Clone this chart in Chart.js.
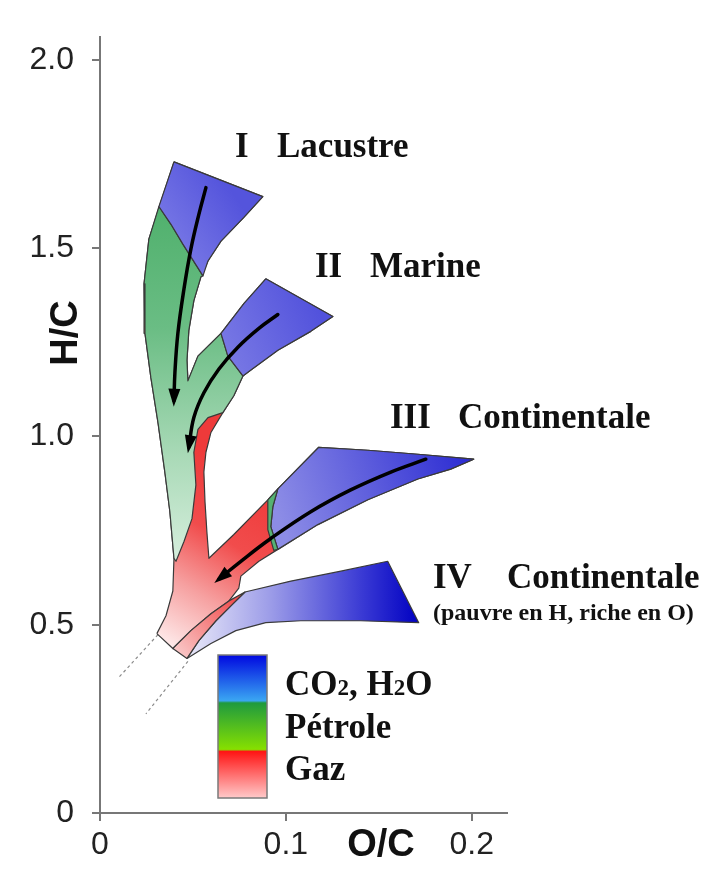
<!DOCTYPE html>
<html>
<head>
<meta charset="utf-8">
<title>Diagramme de Van Krevelen</title>
<script src="https://cdn.jsdelivr.net/npm/chart.js"></script>
<style>
  html, body { margin: 0; padding: 0; background: #fff; }
  #wrap { position: relative; width: 723px; height: 876px; }
</style>
</head>
<body>
<div id="wrap"><canvas id="vk" width="723" height="876"></canvas></div>
<script>
// Axis ticks
const xTicks = [0, 0.1, 0.2];
const yTicks = [0, 0.5, 1.0, 1.5, 2.0];

// Outlines, as [O/C, H/C]
// whole body of branches I-III and the common stem (gas zone underneath)
const gasBase = [
  [0.0306, 0.4763], [0.0355, 0.5237], [0.0392, 0.5895], [0.0398, 0.6763], [0.0376, 0.8000],
  [0.0349, 0.9053], [0.0312, 1.0368], [0.0274, 1.1553], [0.0242, 1.2737], [0.0237, 1.4053],
  [0.0263, 1.5237], [0.0323, 1.6158], [0.0398, 1.7289], [0.0876, 1.6368], [0.0774, 1.5816],
  [0.0651, 1.5184], [0.0581, 1.4658], [0.0543, 1.4237], [0.0505, 1.3605], [0.0478, 1.2816],
  [0.0468, 1.2026], [0.0473, 1.1474], [0.0527, 1.2132], [0.0651, 1.2737], [0.0774, 1.3526],
  [0.0892, 1.4184], [0.1253, 1.3184], [0.1134, 1.2789], [0.0957, 1.2289], [0.0812, 1.1763],
  [0.0769, 1.1605], [0.0720, 1.1079], [0.0661, 1.0632], [0.0597, 1.0105], [0.0570, 0.9579],
  [0.0559, 0.9053], [0.0565, 0.8263], [0.0575, 0.7474], [0.0586, 0.6763], [0.0720, 0.7395],
  [0.0903, 0.8316], [0.0957, 0.8605], [0.1177, 0.9711], [0.1441, 0.9632], [0.1710, 0.9526],
  [0.2011, 0.9395], [0.1887, 0.9132], [0.1710, 0.8868], [0.1441, 0.8316], [0.1172, 0.7658],
  [0.0957, 0.7000], [0.0855, 0.6684], [0.0758, 0.6289], [0.0747, 0.5974], [0.0694, 0.5632],
  [0.0597, 0.5289], [0.0489, 0.4842], [0.0392, 0.4368]
];
// oil zone of branches I and II and the upper stem
const oilZone = [
  [0.0317, 1.6105], [0.0263, 1.5237], [0.0237, 1.4053], [0.0242, 1.2737], [0.0274, 1.1553],
  [0.0312, 1.0368], [0.0349, 0.9053], [0.0376, 0.8000], [0.0398, 0.6763], [0.0409, 0.6684],
  [0.0452, 0.7211], [0.0495, 0.7816], [0.0516, 0.8711], [0.0505, 0.9579], [0.0527, 1.0184],
  [0.0581, 1.0500], [0.0661, 1.0632], [0.0720, 1.1079], [0.0769, 1.1605], [0.0688, 1.2132],
  [0.0651, 1.2737], [0.0527, 1.2132], [0.0473, 1.1474], [0.0468, 1.2026], [0.0478, 1.2816],
  [0.0505, 1.3605], [0.0543, 1.4237], [0.0554, 1.4263], [0.0446, 1.5105], [0.0382, 1.5632]
];
const co2TypeI = [
  [0.0398, 1.7289], [0.0876, 1.6368], [0.0774, 1.5816], [0.0651, 1.5184], [0.0581, 1.4658],
  [0.0554, 1.4263], [0.0446, 1.5105], [0.0382, 1.5632], [0.0317, 1.6105]
];
const co2TypeII = [
  [0.0892, 1.4184], [0.1253, 1.3184], [0.1134, 1.2789], [0.0957, 1.2289], [0.0812, 1.1763],
  [0.0769, 1.1605], [0.0688, 1.2132], [0.0651, 1.2737], [0.0774, 1.3526]
];
const oilTypeIII = [
  [0.0903, 0.8316], [0.0957, 0.8605], [0.0930, 0.8132], [0.0919, 0.7605], [0.0957, 0.7000],
  [0.0935, 0.6974], [0.0903, 0.7526]
];
const co2TypeIII = [
  [0.0957, 0.8605], [0.1177, 0.9711], [0.1441, 0.9632], [0.1710, 0.9526], [0.2011, 0.9395],
  [0.1887, 0.9132], [0.1710, 0.8868], [0.1441, 0.8316], [0.1172, 0.7658], [0.0957, 0.7000],
  [0.0919, 0.7605], [0.0930, 0.8132]
];
const gasTypeIV = [
  [0.0392, 0.4368], [0.0489, 0.4842], [0.0597, 0.5289], [0.0694, 0.5632], [0.0780, 0.5868],
  [0.0715, 0.5553], [0.0624, 0.5105], [0.0532, 0.4579], [0.0468, 0.4105]
];
const co2TypeIV = [
  [0.0780, 0.5868], [0.1027, 0.6158], [0.1296, 0.6421], [0.1548, 0.6684], [0.1715, 0.5053],
  [0.1403, 0.5105], [0.1081, 0.5105], [0.0892, 0.5053], [0.0731, 0.4842], [0.0597, 0.4500],
  [0.0468, 0.4105], [0.0532, 0.4579], [0.0624, 0.5105], [0.0715, 0.5553]
];

// Evolution paths (arrows)
const pathI = [[0.0570, 1.6605], [0.0532, 1.5895], [0.0489, 1.4974], [0.0452, 1.3921], [0.0419, 1.2737], [0.0403, 1.1684], [0.0398, 1.0947]];
const pathII = [[0.0957, 1.3237], [0.0855, 1.2868], [0.0742, 1.2368], [0.0640, 1.1789], [0.0559, 1.1158], [0.0505, 1.0500], [0.0478, 0.9711]];
const pathIII = [[0.1753, 0.9395], [0.1565, 0.9053], [0.1349, 0.8579], [0.1134, 0.8000], [0.0919, 0.7289], [0.0758, 0.6684], [0.0640, 0.6211]];

// Dotted extensions below the stem
const tailA = [[0.0312, 0.4737], [0.0102, 0.3605]];
const tailB = [[0.0473, 0.4026], [0.0247, 0.2632]];

// Texts
const typeLabels = [['I', 'Lacustre'], ['II', 'Marine'], ['III', 'Continentale'], ['IV', 'Continentale']];
const typeNote = '(pauvre en H, riche en O)';
const legendLabels = ['CO2, H2O', 'Pétrole', 'Gaz'];

const SANS = '"Liberation Sans", Arial, sans-serif';
const SERIF = '"Liberation Serif", "Times New Roman", serif';

function toXY(pts) {
  return pts.map(([x, y]) => ({ x, y }));
}

function closed(pts) {
  return toXY(pts.concat([pts[0]]));
}

// gradient spanning two points given in data units
function gradient(x0, y0, x1, y1, stops) {
  return (context) => {
    const chart = context.chart;
    if (!chart.chartArea) return stops[0][1];
    const sx = chart.scales.x, sy = chart.scales.y;
    const g = chart.ctx.createLinearGradient(
      sx.getPixelForValue(x0), sy.getPixelForValue(y0),
      sx.getPixelForValue(x1), sy.getPixelForValue(y1));
    stops.forEach(([o, c]) => g.addColorStop(o, c));
    return g;
  };
}

function zone(label, pts, color, order) {
  return {
    label, data: closed(pts), showLine: true, fill: 'shape',
    backgroundColor: color, borderColor: '#3a3a3a', borderWidth: 1.2,
    borderJoinStyle: 'round', pointRadius: 0, tension: 0, order
  };
}

function path(label, pts, order) {
  return {
    label, data: toXY(pts), showLine: true, fill: false, arrow: true,
    borderColor: '#000', borderWidth: 3.5, borderCapStyle: 'round',
    pointRadius: 0, tension: 0.4, order
  };
}

function tail(label, pts) {
  return {
    label, data: toXY(pts), showLine: true, fill: false,
    borderColor: '#8c8c8c', borderWidth: 1.2, borderDash: [3, 3],
    pointRadius: 0, order: 9
  };
}

const arrowHeads = {
  id: 'arrowHeads',
  afterDatasetsDraw(chart) {
    const c = chart.ctx;
    chart.data.datasets.forEach((ds, i) => {
      if (!ds.arrow) return;
      const pts = chart.getDatasetMeta(i).data;
      const tip = pts[pts.length - 1], prev = pts[pts.length - 2];
      const a = Math.atan2(tip.y - prev.y, tip.x - prev.x);
      c.save();
      c.translate(tip.x, tip.y);
      c.rotate(a);
      c.beginPath();
      c.moveTo(6, 0);
      c.lineTo(-12, -6);
      c.lineTo(-12, 6);
      c.closePath();
      c.fillStyle = '#000';
      c.fill();
      c.restore();
    });
  }
};

function drawChem(c, text, x, y, size) {
  // digits after a letter are drawn smaller (CO2, H2O)
  let cx = x;
  for (let i = 0; i < text.length; i++) {
    const ch = text[i];
    const sub = /[0-9]/.test(ch) && i > 0 && /[A-Z]/.test(text[i - 1]);
    c.font = 'bold ' + (sub ? Math.round(size * 0.66) : size) + 'px ' + SERIF;
    c.fillText(ch, cx, y);
    cx += c.measureText(ch).width;
  }
}

const annotations = {
  id: 'annotations',
  afterDraw(chart) {
    const c = chart.ctx;
    c.save();
    c.fillStyle = '#111';
    c.textBaseline = 'alphabetic';

    // axis titles
    c.font = 'bold 38px ' + SANS;
    c.textAlign = 'center';
    c.fillText('O/C', 381, 856);
    c.save();
    c.translate(77, 333);
    c.rotate(-Math.PI / 2);
    c.fillText('H/C', 0, 0);
    c.restore();

    // kerogen types
    c.textAlign = 'left';
    c.font = 'bold 35px ' + SERIF;
    const spots = [[235, 277, 157], [315, 370, 277], [390, 458, 428], [433, 507, 588]];
    typeLabels.forEach(([num, name], i) => {
      const [xn, xt, yb] = spots[i];
      c.fillText(num, xn, yb);
      c.fillText(name, xt, yb);
    });
    c.font = 'bold 24px ' + SERIF;
    c.fillText(typeNote, 433, 620);

    // colour key
    const bx = 218, by = 655, bw = 49, bh = 143;
    const g = c.createLinearGradient(0, by, 0, by + bh);
    g.addColorStop(0, '#0008e0');
    g.addColorStop(0.32, '#3aa6f2');
    g.addColorStop(0.335, '#1f9a3e');
    g.addColorStop(0.66, '#86e000');
    g.addColorStop(0.675, '#ff1414');
    g.addColorStop(1, '#ffcaca');
    c.fillStyle = g;
    c.fillRect(bx, by, bw, bh);
    c.strokeStyle = '#7a7a7a';
    c.lineWidth = 1.5;
    c.strokeRect(bx, by, bw, bh);

    c.fillStyle = '#111';
    drawChem(c, legendLabels[0], 285, 695, 35);
    c.font = 'bold 35px ' + SERIF;
    c.fillText(legendLabels[1], 285, 738);
    c.fillText(legendLabels[2], 285, 780);
    c.restore();
  }
};

const datasets = [
  path('Chemin I', pathI, 0),
  path('Chemin II', pathII, 0),
  path('Chemin III', pathIII, 0),
  zone('Gaz IV', gasTypeIV, gradient(0.0780, 0.5868, 0.0435, 0.4184,
    [[0, '#f03c3c'], [1, '#f9c6c6']]), 1),
  zone('CO2 IV', co2TypeIV, gradient(0.0489, 0.5, 0.1715, 0.5,
    [[0, '#e6e6f8'], [0.35, '#9c9ce8'], [0.75, '#3a3ad4'], [1, '#0000c2']]), 2),
  zone('Pétrole III', oilTypeIII, '#55b272', 3),
  zone('CO2 III', co2TypeIII, gradient(0.2011, 0.9395, 0.0973, 0.7737,
    [[0, '#2a2ad2'], [1, '#8c8ce6']]), 4),
  zone('CO2 II', co2TypeII, gradient(0.1188, 1.3263, 0.0704, 1.2211,
    [[0, '#5252dc'], [1, '#7676e4']]), 5),
  zone('CO2 I', co2TypeI, gradient(0.0758, 1.6158, 0.0382, 1.4842,
    [[0, '#5454dc'], [1, '#7a7ae6']]), 6),
  zone('Pétrole I-II', oilZone, gradient(0.05, 1.62, 0.05, 0.67,
    [[0, '#4fb06c'], [0.35, '#6abd84'], [0.7, '#a8d9b6'], [1, '#d6eedd']]), 7),
  zone('Gaz', gasBase, gradient(0.0866, 0.879, 0.0328, 0.4316,
    [[0, '#ee3a3a'], [0.35, '#f14c4c'], [0.65, '#f6a0a0'], [1, '#fff4f4']]), 8),
  tail('Prolongement A', tailA),
  tail('Prolongement B', tailB)
];

const tickFont = { family: SANS, size: 32 };

new Chart(document.getElementById('vk'), {
  type: 'scatter',
  data: { datasets },
  options: {
    responsive: false,
    animation: false,
    devicePixelRatio: 1,
    layout: { padding: { left: 0, top: 32, right: 216, bottom: 0 } },
    plugins: { legend: { display: false }, tooltip: { enabled: false } },
    scales: {
      x: {
        type: 'linear', min: 0, max: 0.219,
        afterBuildTicks: (s) => { s.ticks = xTicks.map(v => ({ value: v })); },
        afterFit: (s) => { s.height = 63; },
        ticks: {
          font: tickFont, color: '#222', padding: 5,
          callback: (v) => (v === 0 ? '0' : v.toFixed(1))
        },
        grid: { display: true, drawOnChartArea: false, drawTicks: true, tickLength: 8, color: '#777', lineWidth: 2 },
        border: { display: true, color: '#777', width: 2 }
      },
      y: {
        type: 'linear', min: 0, max: 2.06,
        afterBuildTicks: (s) => { s.ticks = yTicks.map(v => ({ value: v })); },
        afterFit: (s) => { s.width = 100; },
        ticks: {
          font: tickFont, color: '#222', padding: 18,
          callback: (v) => (v === 0 ? '0' : v.toFixed(1))
        },
        grid: { display: true, drawOnChartArea: false, drawTicks: true, tickLength: 8, color: '#777', lineWidth: 2 },
        border: { display: true, color: '#777', width: 2 }
      }
    }
  },
  plugins: [arrowHeads, annotations]
});
</script>
</body>
</html>
